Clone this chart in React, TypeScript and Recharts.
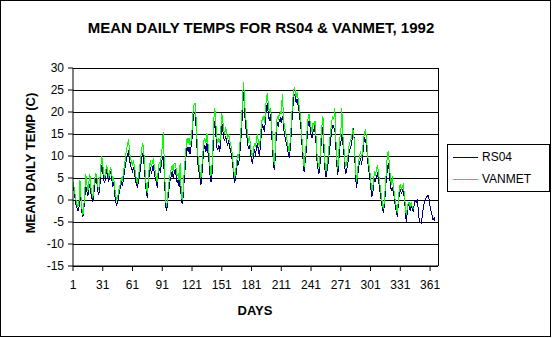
import React from "react";
import { LineChart, Line, XAxis, YAxis, CartesianGrid, ReferenceLine, Label } from "recharts";

const dayTicks = [1, 31, 61, 91, 121, 151, 181, 211, 241, 271, 301, 331, 361];
const tempTicks = [-15, -10, -5, 0, 5, 10, 15, 20, 25, 30];

const rs04 = [
  3.0, 2.0, 0.5, -1.0, -1.8, -2.5, -2.0, 2.8, 0.0, -2.8,
  -3.8, -2.0, 1.0, 3.0, 2.0, 1.0, 2.5, 3.5, 1.5, 0.5,
  -0.4, 1.5, 3.5, 5.0, 4.0, 2.0, 1.2, 3.0, 6.0, 8.0,
  6.5, 4.5, 4.0, 5.5, 7.0, 5.0, 4.0, 5.5, 6.5, 5.0,
  3.0, 4.0, 1.5, -0.5, -1.1, -0.5, 0.8, 2.0, 3.0, 4.0,
  3.5, 5.0, 6.5, 8.0, 9.5, 10.5, 11.0, 9.0, 8.0, 7.0,
  6.5, 7.5, 6.0, 4.5, 3.5, 3.0, 4.0, 5.5, 7.0, 9.0,
  10.5, 10.0, 7.0, 4.0, 1.5, 0.4, 4.0, 6.0, 7.5, 6.0,
  7.0, 8.0, 6.0, 5.0, 4.0, 2.7, 5.5, 7.0, 6.5, 8.0,
  9.5, 10.0, 6.0, 1.0, -2.5, -1.5, 1.0, 3.0, 4.5, 5.5,
  6.5, 5.0, 6.0, 7.0, 5.5, 4.0, 4.5, 3.0, 5.5, 1.0,
  -0.8, 0.5, 4.0, 7.0, 10.0, 12.0, 11.0, 12.0, 10.5, 12.0,
  14.0, 18.0, 19.5, 20.0, 17.0, 12.0, 8.0, 6.4, 5.0, 3.5,
  6.0, 9.0, 11.5, 12.5, 11.0, 13.0, 11.0, 9.0, 6.0, 4.0,
  5.0, 10.0, 16.0, 18.0, 15.0, 12.0, 11.5, 12.5, 11.0, 14.0,
  17.8, 16.0, 14.0, 13.5, 14.5, 13.0, 12.5, 13.5, 12.0, 11.0,
  10.0, 8.0, 5.5, 3.8, 5.0, 7.0, 9.0, 8.0, 10.0, 13.0,
  16.0, 21.0, 24.6, 20.0, 17.0, 15.0, 13.0, 11.5, 12.5, 10.5,
  9.0, 8.5, 10.0, 11.5, 10.0, 12.0, 13.0, 11.0, 10.0, 12.5,
  15.5, 17.0, 16.5, 15.5, 18.0, 21.0, 22.0, 19.0, 18.0, 19.5,
  17.0, 12.0, 8.5, 6.8, 10.0, 15.0, 17.5, 17.0, 18.0, 18.5,
  17.5, 19.0, 18.0, 15.0, 14.0, 13.0, 12.0, 10.5, 9.5, 11.5,
  15.0, 19.0, 22.0, 24.0, 23.5, 22.0, 23.0, 21.5, 20.0, 18.0,
  16.0, 12.0, 9.0, 6.4, 8.5, 11.0, 14.0, 17.0, 18.0, 16.5,
  15.0, 14.0, 16.0, 15.5, 17.0, 13.0, 9.0, 7.0, 6.0, 8.0,
  12.0, 15.0, 16.5, 11.0, 7.0, 5.2, 6.5, 8.0, 10.0, 12.0,
  14.0, 16.0, 17.0, 16.5, 16.0, 12.0, 8.0, 5.7, 9.0, 12.0,
  13.0, 15.0, 13.0, 11.0, 7.5, 6.0, 7.0, 8.0, 10.5, 11.5,
  12.0, 13.0, 15.0, 16.3, 10.0, 5.0, 2.7, 5.5, 7.5, 8.5,
  9.5, 8.0, 10.0, 12.5, 14.0, 13.5, 12.5, 9.0, 7.0, 5.5,
  3.5, 0.8, 1.1, 3.0, 5.0, 4.0, 5.5, 6.0, 4.5, 3.0,
  1.0, -0.5, -2.0, -3.0, -1.0, 2.0, 5.0, 7.0, 8.5, 6.0,
  3.5, 2.0, 3.0, 1.5, 0.5, -1.5, -2.5, -3.8, -1.0, 1.5,
  2.5, 1.5, 2.0, 2.5, 0.5, -2.0, -5.0, -3.0, -1.0, -1.5,
  -2.5, -1.0, -2.0, -2.7, -1.0, 0.0, -0.5, 0.2, -2.0, -4.5,
  -5.0, -5.3, -4.0, -2.0, -0.7, 0.0, 0.5, 0.8, 1.1, 0.2,
  -1.5, -2.5, -3.5, -4.5, -4.0, -4.8,
];

const vanmet = [
  4.2, 3.0, 1.5, 0.0, -1.0, -1.5, -0.5, 4.5, 1.0, -2.0,
  -3.5, -1.0, 2.5, 5.8, 3.5, 2.0, 4.0, 6.0, 3.0, 1.5,
  0.5, 3.0, 5.0, 6.0, 5.5, 3.0, 2.5, 4.5, 7.5, 10.0,
  8.0, 6.0, 5.0, 6.5, 8.0, 6.5, 5.0, 6.5, 7.5, 6.0,
  4.5, 5.0, 3.0, 1.0, 0.0, 0.5, 2.0, 3.0, 4.0, 5.0,
  4.5, 6.5, 8.0, 10.0, 11.5, 12.5, 13.9, 11.0, 9.5, 8.5,
  8.0, 9.0, 7.5, 6.0, 4.5, 4.0, 5.5, 7.0, 9.0, 11.0,
  12.9, 12.0, 9.0, 5.5, 3.0, 1.5, 5.5, 7.5, 9.0, 7.5,
  8.5, 9.5, 7.5, 6.5, 5.0, 4.0, 7.0, 8.5, 8.0, 10.0,
  12.0, 15.5, 9.0, 2.5, -1.5, -0.5, 2.5, 4.5, 6.0, 7.0,
  8.0, 6.5, 8.4, 8.4, 7.0, 5.5, 6.0, 4.5, 8.4, 2.5,
  0.0, 2.0, 6.0, 9.0, 12.0, 14.0, 13.0, 14.0, 12.5, 13.5,
  16.0, 20.0, 21.5, 22.0, 19.0, 14.0, 10.0, 8.0, 6.5, 5.0,
  8.0, 11.0, 13.5, 14.0, 13.0, 15.2, 13.0, 11.0, 8.0, 5.5,
  7.0, 12.5, 18.5, 20.8, 17.5, 14.0, 13.0, 14.0, 13.0, 16.0,
  19.7, 18.0, 16.0, 15.0, 16.5, 15.0, 14.0, 15.0, 13.5, 12.5,
  11.5, 9.5, 7.0, 5.0, 6.5, 8.5, 10.5, 9.5, 12.0, 15.0,
  18.5, 23.5, 26.9, 22.5, 19.0, 17.0, 15.0, 13.0, 14.5, 12.0,
  10.5, 10.0, 11.5, 13.0, 12.0, 14.0, 15.0, 13.0, 12.0, 14.5,
  17.5, 18.5, 18.9, 17.5, 20.0, 23.5, 24.0, 21.5, 20.0, 21.0,
  19.0, 14.0, 10.0, 8.0, 12.0, 17.0, 19.0, 18.5, 19.5, 20.0,
  19.5, 24.0, 20.0, 16.5, 16.0, 14.5, 13.5, 12.0, 11.0, 13.5,
  17.0, 21.0, 24.0, 25.5, 25.0, 23.5, 24.5, 23.0, 21.5, 19.5,
  17.5, 13.5, 10.5, 7.5, 10.0, 12.5, 16.0, 18.5, 19.5, 18.0,
  16.5, 15.5, 17.5, 17.0, 18.0, 14.5, 10.5, 8.5, 7.5, 9.5,
  14.0, 17.0, 19.0, 13.0, 8.5, 6.5, 8.0, 9.5, 12.0, 14.0,
  16.0, 18.0, 19.0, 18.5, 20.8, 14.0, 9.5, 7.0, 11.0, 14.0,
  15.0, 20.8, 15.0, 12.5, 9.0, 7.5, 8.5, 9.5, 12.0, 13.0,
  13.5, 14.5, 16.0, 15.5, 11.5, 6.5, 4.0, 7.0, 9.0, 10.0,
  11.0, 9.5, 11.5, 14.0, 15.5, 15.9, 14.0, 10.5, 8.5, 7.0,
  5.0, 2.5, 2.5, 4.5, 6.5, 5.5, 7.0, 8.0, 6.0, 4.5,
  2.5, 1.0, -1.0, -2.0, 0.0, 3.5, 7.0, 10.5, 11.0, 8.0,
  5.0, 3.5, 5.5, 3.0, 1.5, -0.5, -1.5, -3.0, 0.0, 2.5,
  3.7, 2.5, 3.0, 3.5, 1.5, -1.0, -3.5, -2.0, -0.5, -0.5,
  -1.5, -0.5, -1.5, -2.0,
];

const days = rs04.map((_, i) => i + 1);

const data = days.map((day, i) => ({
  day,
  RS04: rs04[i],
  VANMET: i < vanmet.length ? vanmet[i] : null,
}));

const FONT = "'Liberation Sans', Arial, Helvetica, sans-serif";
const BLUE = "#000080";
const GREEN = "#00FF00";

const YTitle = () => (
  <text
    x={30}
    y={163}
    transform="rotate(-90, 30, 163)"
    textAnchor="middle"
    dominantBaseline="central"
    fontFamily={FONT}
    fontSize={13}
    fontWeight="bold"
    fill="#000"
  >
    MEAN DAILY TEMP (C)
  </text>
);

const XTitle = () => (
  <text
    x={255}
    y={310}
    textAnchor="middle"
    dominantBaseline="central"
    fontFamily={FONT}
    fontSize={13}
    fontWeight="bold"
    fill="#000"
  >
    DAYS
  </text>
);

export default function App() {
  return (
    <div style={{ position: "relative", width: 552, height: 338, background: "#fff" }}>
      <style>{"body{margin:0;background:#fff}"}</style>
      <div
        style={{
          position: "absolute",
          left: 0,
          top: 19,
          width: 522,
          textAlign: "center",
          fontFamily: FONT,
          fontSize: 15,
          fontWeight: "bold",
          lineHeight: "17px",
          color: "#000",
        }}
      >
        MEAN DAILY TEMPS FOR RS04 &amp; VANMET, 1992
      </div>
      <LineChart
        width={552}
        height={338}
        data={data}
        margin={{ top: 68, right: 114, bottom: 32, left: 0 }}
      >
        <CartesianGrid
          horizontal={true}
          vertical={false}
          stroke="#000"
          strokeOpacity={1}
          shapeRendering="crispEdges"
        />
        <XAxis
          type="number"
          dataKey="day"
          domain={[1, 369]}
          ticks={dayTicks}
          interval={0}
          height={40}
          tickSize={5}
          tickMargin={9}
          axisLine={{ stroke: "#000" }}
          tickLine={{ stroke: "#000" }}
          tick={{ fill: "#000", fontSize: 12, fontFamily: FONT }}
        >
          <Label content={XTitle} />
        </XAxis>
        <YAxis
          type="number"
          domain={[-15, 30]}
          ticks={tempTicks}
          interval={0}
          width={73}
          tickSize={5}
          tickMargin={4}
          axisLine={{ stroke: "#000" }}
          tickLine={{ stroke: "#000" }}
          tick={{ fill: "#000", fontSize: 12, fontFamily: FONT }}
        >
          <Label content={YTitle} />
        </YAxis>
        <ReferenceLine x={369} stroke="#000" shapeRendering="crispEdges" />
        <Line
          type="linear"
          dataKey="RS04"
          stroke={BLUE}
          strokeWidth={1}
          dot={false}
          activeDot={false}
          shapeRendering="crispEdges"
          isAnimationActive={false}
        />
        <Line
          type="linear"
          dataKey="VANMET"
          stroke={GREEN}
          strokeWidth={1}
          dot={false}
          activeDot={false}
          shapeRendering="crispEdges"
          isAnimationActive={false}
        />
      </LineChart>
      <div
        style={{
          position: "absolute",
          left: 447,
          top: 144,
          width: 103,
          height: 48,
          border: "1px solid #000",
          boxSizing: "border-box",
          background: "#fff",
          fontFamily: FONT,
          fontSize: 12,
          color: "#000",
        }}
      >
        {[
          { name: "RS04", color: BLUE, top: 5 },
          { name: "VANMET", color: GREEN, top: 27 },
        ].map((item) => (
          <div
            key={item.name}
            style={{ position: "absolute", left: 5, top: item.top, height: 14, display: "flex", alignItems: "center" }}
          >
            <div style={{ width: 25, height: 1, background: item.color }} />
            <span style={{ marginLeft: 4, lineHeight: "14px" }}>{item.name}</span>
          </div>
        ))}
      </div>
      <div
        style={{
          position: "absolute",
          left: 0,
          top: 0,
          width: 551,
          height: 337,
          border: "1px solid #000",
          boxSizing: "border-box",
          pointerEvents: "none",
        }}
      />
    </div>
  );
}
